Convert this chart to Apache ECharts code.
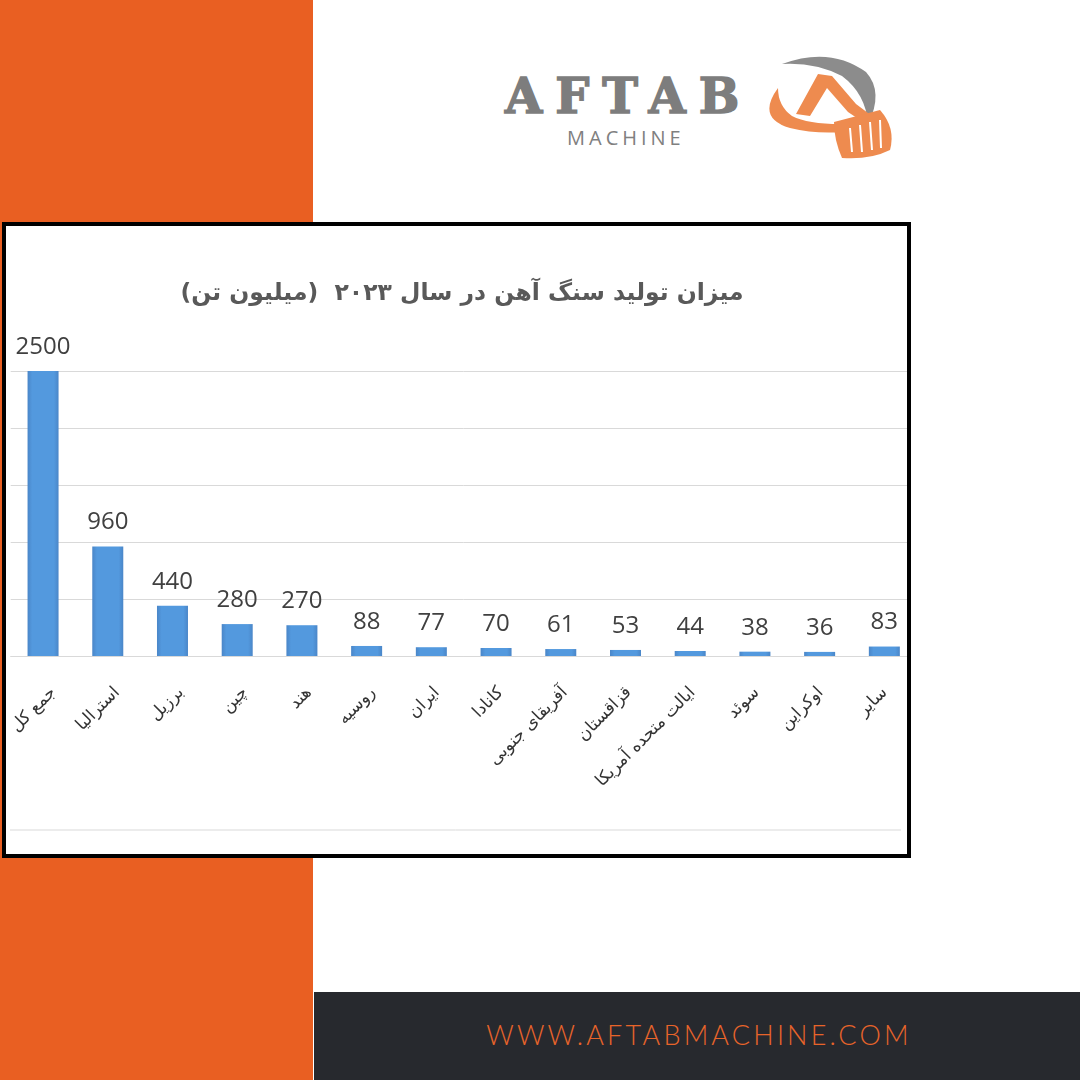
<!DOCTYPE html>
<html><head><meta charset="utf-8">
<script src="https://cdn.jsdelivr.net/npm/echarts@6/dist/echarts.min.js"></script>
<style>
html,body{margin:0;padding:0;width:1080px;height:1080px;background:#fff;overflow:hidden;position:relative}
#orange{position:absolute;left:0;top:0;width:313px;height:1080px;background:#e95f22}
#footer{position:absolute;left:314px;top:992px;width:766px;height:88px;background:#27292e}
#url{position:absolute;left:316px;width:766px;top:1019px;text-align:center;font-family:'Lato','Open Sans',sans-serif;font-weight:300;font-size:27px;letter-spacing:3.2px;color:#e8642a;line-height:32px}
#aftab{position:absolute;left:505px;top:68px;font-family:'DejaVu Serif',serif;font-weight:bold;font-size:48px;letter-spacing:13px;color:#7d7d7d;line-height:56px;-webkit-text-stroke:1.5px #7d7d7d}
#machine{position:absolute;left:567px;top:126px;font-family:'Open Sans',sans-serif;font-size:20px;letter-spacing:4px;color:#808080;line-height:24px}
#logo{position:absolute;left:0;top:0}
#box{position:absolute;left:2px;top:222px;width:909px;height:636px;box-sizing:border-box;border:4px solid #000;background:#fff;overflow:hidden}
#chart{position:absolute;left:0;top:0;width:930px;height:628px}
</style></head>
<body>
<div id="orange"></div>
<div id="footer"></div>
<div id="url">WWW.AFTABMACHINE.COM</div>
<div id="aftab">AFTAB</div>
<div id="machine">MACHINE</div>
<svg id="logo" width="1080" height="200">
  <path d="M782,64 Q830,46 866,72 Q884,92 868,124 Q866,94 842,76 Q815,62 782,64 Z" fill="#8c8c8c"/>
  <path d="M778,88 Q756,118 790,128 Q815,134 842,132 L840,124 Q808,124 792,116 Q778,106 778,88 Z" fill="#ee8b4f"/>
  <path d="M796,114 L818,74 L832,76 L856,104 L872,116 L866,124 L848,112 L827,88 L810,116 Z" fill="#ee8b4f"/>
  <path d="M834,122 L880,110 Q896,128 890,150 Q870,160 842,158 Q834,140 834,122 Z" fill="#ee8b4f"/>
  <path d="M850,128 L852,152 M860,125 L862,152 M870,122 L872,150 M880,120 L881,148" stroke="#fff" stroke-width="2" fill="none"/>
</svg>
<div id="box"><div id="chart"></div></div>
<script>
const categories = ['جمع کل','استرالیا','برزیل','چین','هند','روسیه','ایران','کانادا','آفریقای جنوبی','قزاقستان','ایالت متحده آمریکا','سوئد','اوکراین','سایر'];
const production = [2500,960,440,280,270,88,77,70,61,53,44,38,36,83];
const yMin = 0, yMax = 2500, yInterval = 500;
const titleText = 'میزان تولید سنگ آهن در سال ۲۰۲۳  (میلیون تن)\u200F';

const chart = echarts.init(document.getElementById('chart'), null, {renderer:'canvas'});
const gridLeft = 4.7, gridTop = 145, gridW = 906, gridH = 285;
chart.setOption({
  animation:false,
  backgroundColor:'#fff',
  title:{text:titleText,left:451,textAlign:'center',top:51,textStyle:{fontFamily:'DejaVu Sans',fontWeight:'bold',fontSize:23.5,color:'#595959'}},
  grid:[
    {left:gridLeft,top:gridTop,width:gridW,height:gridH},
    {left:gridLeft,top:gridTop,width:gridW,height:gridH}
  ],
  xAxis:[
    {type:'category',gridIndex:0,data:categories,axisLine:{show:true,lineStyle:{color:'#d9d9d9'}},axisTick:{show:false},axisLabel:{show:false}},
    {type:'category',gridIndex:1,data:categories,axisLine:{show:false},axisTick:{show:false},
     axisLabel:{interval:0,rotate:45,margin:34,fontSize:17,color:'#333333',fontFamily:'DejaVu Sans'}}
  ],
  yAxis:[
    {type:'value',gridIndex:0,min:yMin,max:yMax,interval:yInterval,axisLabel:{show:false},axisLine:{show:false},axisTick:{show:false},
     splitLine:{lineStyle:{color:'#d9d9d9',width:1}}},
    {type:'value',gridIndex:1,min:yMin,max:yMax,interval:yInterval,show:false,splitLine:{show:false}}
  ],
  graphic:[{type:'line',shape:{x1:4,y1:604,x2:895,y2:604},style:{stroke:'#d9d9d9',lineWidth:1}}],
  series:[{
    type:'bar',xAxisIndex:0,yAxisIndex:0,data:production,barWidth:31,
    itemStyle:{color:new echarts.graphic.LinearGradient(0,0,1,0,[
      {offset:0,color:'#4a86c8'},{offset:0.15,color:'#5399de'},{offset:0.85,color:'#5399de'},{offset:1,color:'#4a86c8'}])},
    label:{show:true,position:'top',distance:12,fontSize:24,color:'#404040',fontFamily:'Open Sans'}
  }]
});
</script>
</body></html>
